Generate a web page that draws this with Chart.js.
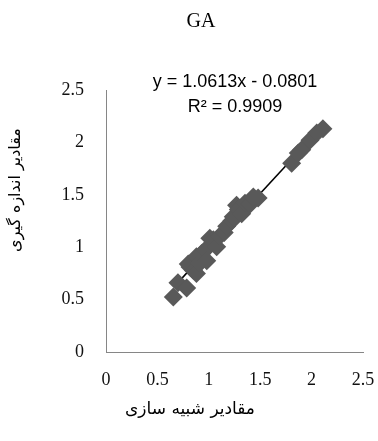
<!DOCTYPE html>
<html>
<head>
<meta charset="utf-8">
<script src="https://cdn.jsdelivr.net/npm/chart.js@4"></script>
<style>
  html, body { margin: 0; padding: 0; background: #fff; }
  #wrap { width: 378px; height: 441px; position: relative; }
</style>
</head>
<body>
<div id="wrap"><canvas id="chart"></canvas></div>
<script>
const simValues = [0.655, 0.70, 0.785, 0.80, 0.817, 0.85, 0.88, 0.88, 0.914, 0.93, 0.963, 0.98,
    1.01, 1.044, 1.077, 1.109, 1.15, 1.174, 1.223, 1.238, 1.27, 1.287, 1.32, 1.352, 1.40, 1.433, 1.48,
    1.806, 1.87, 1.904, 1.984, 2.05, 2.11];
const measValues = [0.525, 0.66, 0.61, 0.84, 0.81, 0.78, 0.75, 0.91, 0.85, 0.94, 0.97, 0.87,
    1.085, 1.07, 1.005, 1.11, 1.14, 1.2, 1.25, 1.29, 1.40, 1.36, 1.32, 1.42, 1.41, 1.48, 1.47,
    1.80, 1.90, 1.93, 2.02, 2.09, 2.13];

// linear trend line from the equation shown on the chart
const slope = 1.0613;
const intercept = -0.0801;
const rSquared = 0.9909;
const trendX = [0.67, 2.10];

const axisTicks = [0, 0.5, 1, 1.5, 2, 2.5];
const chartTitle = 'GA';
const xTitle = 'مقادیر شبیه سازی';
const yTitle = 'مقادیر اندازه گیری';

const points = simValues.map((x, i) => ({ x: x, y: measValues[i] }));
const trend = trendX.map(x => ({ x: x, y: slope * x + intercept }));

// draws the title, axis titles and the equation box
const textPlugin = {
    id: 'texts',
    afterDraw(chart) {
        const ctx = chart.ctx;
        ctx.save();
        ctx.fillStyle = '#000';
        ctx.textAlign = 'center';
        ctx.textBaseline = 'middle';
        ctx.font = '20px "Liberation Serif"';
        ctx.fillText(chartTitle, 201, 22);

        ctx.font = '17px "DejaVu Sans"';
        ctx.fillText(xTitle, 190, 410);
        ctx.save();
        ctx.translate(16, 190);
        ctx.rotate(-Math.PI / 2);
        ctx.font = '16px "DejaVu Sans"';
        ctx.fillText(yTitle, 0, 0);
        ctx.restore();

        ctx.font = '18px "Liberation Sans"';
        ctx.fillText('y = ' + slope + 'x - ' + Math.abs(intercept).toFixed(4), 235, 82);
        ctx.fillText('R² = ' + rSquared, 235, 107);
        ctx.restore();
    }
};

const tickFont = { family: 'Liberation Serif', size: 18 };

new Chart(document.getElementById('chart'), {
    type: 'scatter',
    data: {
        datasets: [{
            label: 'GA',
            data: points,
            pointStyle: 'rectRot',
            pointRadius: 9.5,
            pointHoverRadius: 9.5,
            backgroundColor: '#595959',
            borderColor: '#595959',
            borderWidth: 0
        }, {
            label: 'trend',
            type: 'line',
            data: trend,
            borderColor: '#000',
            borderWidth: 1.5,
            pointRadius: 0,
            fill: false
        }]
    },
    options: {
        responsive: true,
        maintainAspectRatio: false,
        animation: false,
        layout: { padding: { left: 0, right: 15, top: 90, bottom: 0 } },
        plugins: {
            legend: { display: false },
            tooltip: { enabled: false }
        },
        scales: {
            x: {
                type: 'linear',
                min: 0,
                max: 2.5,
                afterBuildTicks: s => { s.ticks = axisTicks.map(v => ({ value: v })); },
                afterFit: s => { s.height = 89; s.paddingLeft = 0; s.paddingRight = 0; },
                grid: { display: false, drawTicks: false },
                border: { display: true, color: '#868686', width: 1 },
                ticks: { padding: 17, color: '#111', font: tickFont, callback: v => String(v) }
            },
            y: {
                type: 'linear',
                min: 0,
                max: 2.5,
                afterBuildTicks: s => { s.ticks = axisTicks.map(v => ({ value: v })); },
                afterFit: s => { s.width = 106; s.paddingTop = 0; s.paddingBottom = 0; },
                grid: { display: false, drawTicks: false },
                border: { display: true, color: '#868686', width: 1 },
                ticks: { padding: 22, color: '#111', font: tickFont, callback: v => String(v) }
            }
        }
    },
    plugins: [textPlugin]
});
</script>
</body>
</html>
